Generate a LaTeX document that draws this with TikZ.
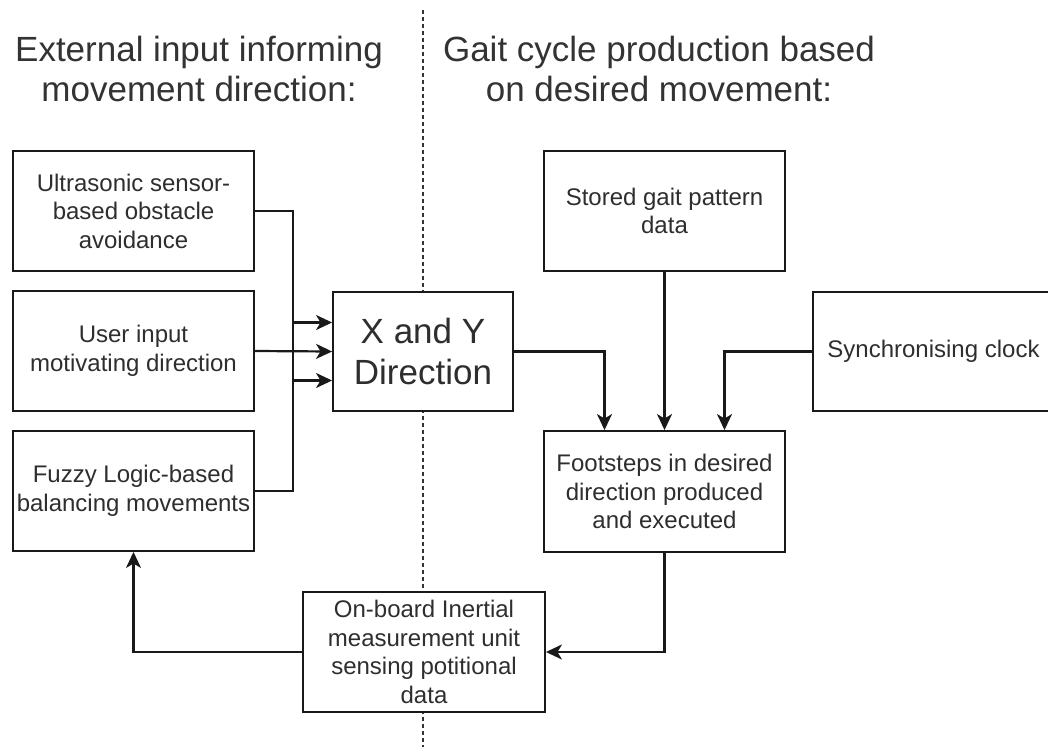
\documentclass[tikz,border=0pt]{standalone}
\usepackage{fontspec}
\setmainfont{Liberation Sans}
\usetikzlibrary{arrows.meta}
\begin{document}
\begin{tikzpicture}[x=1pt,y=-1pt,
  blk/.style={draw=black!90,fill=white,line width=1.9pt,inner sep=0pt,align=center,
    font=\fontsize{24}{28.5}\selectfont,text=black!82},
  conn/.style={draw=black!90,line width=2.2pt,-{Stealth[length=16pt,width=15pt,inset=4.5pt]}},
  ttl/.style={align=center,font=\fontsize{35}{40}\selectfont,text=black!80}]
\useasboundingbox (0,0) rectangle (1048,747);
\begin{scope}
\clip (0,0) rectangle (1048,747);
% divider
\coordinate (dtop) at (423,10);
\coordinate (dbot) at (423,747);
\draw[line width=1.4pt,dash pattern=on 4pt off 3pt,black!80] (dtop) -- (dbot);
% titles
\node[ttl] (t1) at (199,69) {External input informing\\movement direction:};
\node[ttl] (t2) at (659,69) {Gait cycle production based\\on desired movement:};
% boxes
\node[blk,minimum width=241pt,minimum height=120pt] (us) at (133.5,211) {Ultrasonic sensor-\\based obstacle\\avoidance};
\node[blk,minimum width=241pt,minimum height=120pt] (ui) at (133.5,351) {User input\\motivating direction};
\node[blk,minimum width=241pt,minimum height=120pt] (fz) at (133.5,491) {Fuzzy Logic-based\\balancing movements};
\node[blk,minimum width=180pt,minimum height=119pt,font=\fontsize{35}{41}\selectfont] (xy) at (423,351.5) {X and Y\\Direction};
\node[blk,minimum width=241pt,minimum height=120pt] (sg) at (664.5,211) {Stored gait pattern\\data};
\node[blk,minimum width=241pt,minimum height=119pt] (sc) at (933.5,351.5) {Synchronising clock};
\node[blk,minimum width=241pt,minimum height=121pt] (fs) at (664.5,491.5) {Footsteps in desired\\direction produced\\and executed};
\node[blk,minimum width=242pt,minimum height=120pt] (ob) at (424,652) {On-board Inertial\\measurement unit\\sensing potitional\\data};
\end{scope}
% connectors
\draw[conn] (us.east) -- (293,211) |- ([yshift=-29pt]xy.west);
\draw[conn] (ui.east) -- (xy.west);
\draw[conn] (fz.east) -- (293,491) |- ([yshift=29pt]xy.west);
\draw[conn] (xy.east) -| ([xshift=-60pt]fs.north);
\draw[conn] (sg.south) -- (fs.north);
\draw[conn] (sc.west) -| ([xshift=60pt]fs.north);
\draw[conn] (fs.south) |- (ob.east);
\draw[conn] (ob.west) -| (fz.south);
\end{tikzpicture}
\end{document}
